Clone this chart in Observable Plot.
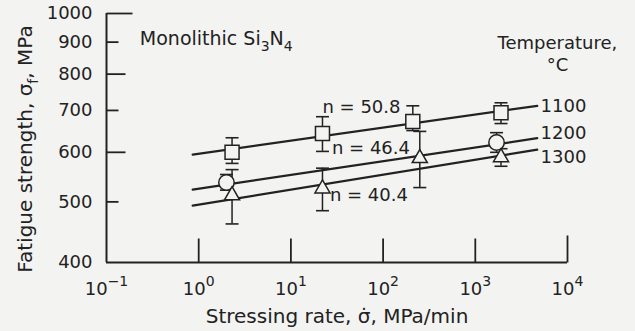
<!DOCTYPE html>
<html><head><meta charset="utf-8">
<script src="https://cdn.jsdelivr.net/npm/d3@7"></script>
<script src="https://cdn.jsdelivr.net/npm/@observablehq/plot@0.6"></script>
<style>
html,body{margin:0;padding:0;background:#f3f3f1;}
</style></head><body><div id="chart"></div>
<script>
// ---- data ----
const rate1100 = [2.3, 22, 210, 1900];
const strength1100 = [600, 643, 672, 694];
const low1100 = [576, 602, 650, 667];
const high1100 = [633, 684, 712, 720];

const rate1200 = [2.0, 1700];
const strength1200 = [537, 622];
const low1200 = [522, 600];
const high1200 = [553, 645];

const rate1300 = [2.3, 22, 250, 1900];
const strength1300 = [512, 525, 587, 589];
const low1300 = [461, 484, 527, 570];
const high1300 = [563, 566, 648, 608];

const fitRate = [0.86, 4700];
const fit1100 = [595, 712];
const fit1200 = [523, 632];
const fit1300 = [493, 606];

const temperatures = ["1100", "1200", "1300"];
const tempLabelRate = [5100, 5100, 5100];
const tempLabelStrength = [712, 643, 589];

const nLabels = ["n = 50.8", "n = 46.4", "n = 40.4"];
const nLabelRate = [22, 27.9, 26.5];
const nLabelStrength = [707, 608, 512];

const yTicks = [400, 500, 600, 700, 800, 900, 1000];
const yTicksLong = [1000];
const yTicksMid = [600, 800];
const yTicksShort = [500, 700, 900];
const xTicks = [0.1, 1, 10, 100, 1000, 10000];
const xTicksInner = [1, 10, 100, 1000];
const xTicksEnd = [10000];

const titleText = "Monolithic Si_3N_4";
const legendTitle = ["Temperature,", "°C"];
const legendTitleRate = [7780, 7780];
const legendTitleStrength = [897, 826];
const yLabel = "Fatigue strength, σ_f, MPa";
const xLabel = "Stressing rate, σ\u0307, MPa/min";

// ---- tables ----
const mk = (t, xs, ys, lo, hi) => xs.map((x, i) => ({temp: t, rate: x, strength: ys[i], low: lo[i], high: hi[i]}));
const p1100 = mk("1100", rate1100, strength1100, low1100, high1100);
const p1200 = mk("1200", rate1200, strength1200, low1200, high1200);
const p1300 = mk("1300", rate1300, strength1300, low1300, high1300);
const points = [...p1100, ...p1200, ...p1300];
const fits = [["1100", fit1100], ["1200", fit1200], ["1300", fit1300]]
  .flatMap(([t, ys]) => fitRate.map((x, i) => ({temp: t, rate: x, strength: ys[i]})));

const ink = "#222";
const bg = "#f3f3f1";
const font = "'DejaVu Sans', Verdana, sans-serif";
const cap = {draw(ctx) { ctx.moveTo(-6.5, 0); ctx.lineTo(6.5, 0); }};
const tickRight = L => ({draw(ctx) { ctx.moveTo(0, 0); ctx.lineTo(L, 0); }});
const tickUp = L => ({draw(ctx) { ctx.moveTo(0, 0); ctx.lineTo(0, -L); }});

const svg = Plot.plot({
  width: 635, height: 331,
  marginLeft: 106, marginRight: 68, marginTop: 13, marginBottom: 69,
  style: {background: bg, color: ink, fontSize: "18px", fontFamily: font},
  x: {type: "log", domain: [0.1, 10000], axis: null},
  y: {type: "log", domain: [400, 1000], axis: null},
  marks: [
    // tick labels
    Plot.axisY({ticks: yTicks, tickSize: 0, tickPadding: 14, tickFormat: d => String(d), label: null, fontSize: 18}),
    Plot.axisX({ticks: xTicks, tickSize: 0, tickPadding: 20, tickFormat: d => "10^" + Math.round(Math.log10(d)), label: null, fontSize: 18}),
    // inward ticks
    Plot.dot(yTicksLong, {y: d => d, frameAnchor: "left", symbol: tickRight(26), stroke: ink, strokeWidth: 1.8, fill: "none"}),
    Plot.dot(yTicksMid, {y: d => d, frameAnchor: "left", symbol: tickRight(19), stroke: ink, strokeWidth: 1.8, fill: "none"}),
    Plot.dot(yTicksShort, {y: d => d, frameAnchor: "left", symbol: tickRight(12), stroke: ink, strokeWidth: 1.8, fill: "none"}),
    Plot.dot(xTicksInner, {x: d => d, frameAnchor: "bottom", symbol: tickUp(24), stroke: ink, strokeWidth: 1.8, fill: "none"}),
    Plot.dot(xTicksEnd, {x: d => d, frameAnchor: "bottom", symbol: tickUp(27), stroke: ink, strokeWidth: 1.8, fill: "none"}),
    // axis lines
    Plot.ruleX([0.1], {stroke: ink, strokeWidth: 2}),
    Plot.ruleY([400], {stroke: ink, strokeWidth: 2}),
    // fitted lines
    Plot.line(fits, {x: "rate", y: "strength", z: "temp", stroke: ink, strokeWidth: 2.2}),
    // error bars
    Plot.ruleX(points, {x: "rate", y1: "low", y2: "high", stroke: ink, strokeWidth: 1.5}),
    Plot.dot(points, {x: "rate", y: "low", symbol: cap, stroke: ink, strokeWidth: 1.6, fill: "none"}),
    Plot.dot(points, {x: "rate", y: "high", symbol: cap, stroke: ink, strokeWidth: 1.6, fill: "none"}),
    // markers
    Plot.dot(p1100, {x: "rate", y: "strength", symbol: "square", r: 7.9, fill: bg, stroke: ink, strokeWidth: 1.5}),
    Plot.dot(p1200, {x: "rate", y: "strength", symbol: "circle", r: 7.7, fill: bg, stroke: ink, strokeWidth: 1.5}),
    Plot.dot(p1300, {x: "rate", y: "strength", symbol: "triangle", r: 5.6, fill: bg, stroke: ink, strokeWidth: 1.5}),
    // annotations
    Plot.text(nLabels, {x: (d, i) => nLabelRate[i], y: (d, i) => nLabelStrength[i], text: d => d, textAnchor: "start", lineAnchor: "middle", fill: ink, fontSize: 18}),
    Plot.text(temperatures, {x: (d, i) => tempLabelRate[i], y: (d, i) => tempLabelStrength[i], text: d => d, textAnchor: "start", lineAnchor: "middle", fill: ink, fontSize: 18}),
    Plot.text(legendTitle, {x: (d, i) => legendTitleRate[i], y: (d, i) => legendTitleStrength[i], text: d => d, textAnchor: "middle", lineAnchor: "middle", fill: ink, fontSize: 18}),
    Plot.text([titleText], {x: [0.23], y: [912], text: d => d, textAnchor: "start", lineAnchor: "middle", fill: ink, fontSize: 19}),
    Plot.text([yLabel], {frameAnchor: "left", rotate: -90, dx: -81, dy: 11, text: d => d, textAnchor: "middle", lineAnchor: "middle", fill: ink, fontSize: 20}),
    Plot.text([xLabel], {frameAnchor: "bottom", dy: 54, text: d => d, textAnchor: "middle", lineAnchor: "middle", fill: ink, fontSize: 20})
  ]
});

// sub/superscripts
d3.select(svg).selectAll("text").each(function() {
  const t = this.textContent;
  if (/^10\^/.test(t)) {
    const e = t.slice(3).replace("-", "\u2212");
    this.innerHTML = `10<tspan dy="-9" font-size="14">${e}</tspan>`;
  } else if (t.includes("_")) {
    // split into normal / subscript runs without empty spans
    const parts = t.split(/_(\w)/);
    let html = parts[0];
    for (let k = 1; k < parts.length; k += 2) {
      html += `<tspan dy="6" font-size="14">${parts[k]}</tspan>`;
      const rest = parts[k + 1];
      if (rest) html += `<tspan dy="-6">${rest}</tspan>`;
      else if (k + 2 < parts.length) html += "";
    }
    // handle consecutive subscripts separated by text (e.g. Si_3N_4): rest tspan resets baseline
    this.innerHTML = html;
  }
});
document.getElementById("chart").appendChild(svg);
</script>
</body></html>
